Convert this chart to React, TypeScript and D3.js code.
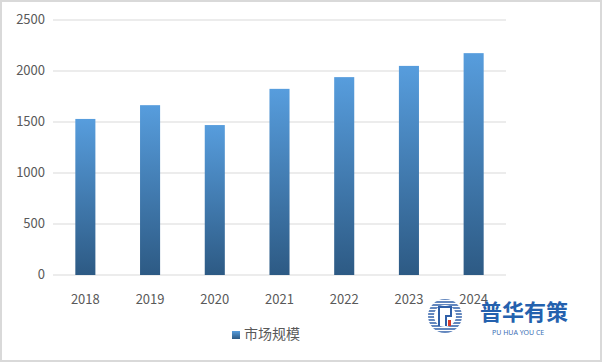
import * as d3 from "d3";

const years = ["2018", "2019", "2020", "2021", "2022", "2023", "2024"];
const marketSize = [1530, 1665, 1470, 1825, 1940, 2050, 2175];
const yTickValues = [0, 500, 1000, 1500, 2000, 2500];
const legendLabel = "市场规模";

export default function App() {
  const width = 602;
  const height = 362;
  const margin = { top: 20, right: 96, bottom: 87, left: 53 };

  const xScale = d3
    .scaleBand()
    .domain(years)
    .range([margin.left, width - margin.right])
    .paddingInner(0.69)
    .paddingOuter(0.345);
  const yScale = d3
    .scaleLinear()
    .domain([0, 2500])
    .range([height - margin.bottom, margin.top]);

  const font = "'Noto Sans CJK SC', 'Noto Sans', sans-serif";
  const stripes = d3.range(-17, 18, 3);

  return (
    <svg
      width={width}
      height={height}
      style={{ position: "absolute", left: 0, top: 0 }}
      viewBox={`0 0 ${width} ${height}`}
    >
      <defs>
        <linearGradient id="barGrad" x1="0" y1="0" x2="0" y2="1">
          <stop offset="0%" stopColor="#579DDD" />
          <stop offset="100%" stopColor="#2D5A84" />
        </linearGradient>
        <clipPath id="logoClip">
          <circle cx={445} cy={316} r={17} />
        </clipPath>
      </defs>
      <rect x={1} y={1} width={width - 2} height={height - 2} fill="#fff" stroke="#d9d9d9" strokeWidth={2} />

      {yTickValues.map((t) => (
        <g key={t}>
          <line
            x1={margin.left}
            x2={width - margin.right}
            y1={yScale(t)}
            y2={yScale(t)}
            stroke="#d9d9d9"
            strokeWidth={1}
          />
          <text
            x={margin.left - 8}
            y={yScale(t)}
            textAnchor="end"
            dominantBaseline="middle"
            fontSize={13}
            fill="#595959"
            fontFamily={font}
          >
            {t}
          </text>
        </g>
      ))}

      {years.map((y, i) => (
        <rect
          key={y}
          x={xScale(y)}
          y={yScale(marketSize[i])}
          width={xScale.bandwidth()}
          height={yScale(0) - yScale(marketSize[i])}
          fill="url(#barGrad)"
        />
      ))}

      {years.map((y) => (
        <text
          key={y}
          x={(xScale(y) ?? 0) + xScale.bandwidth() / 2}
          y={300}
          textAnchor="middle"
          dominantBaseline="middle"
          fontSize={13}
          fill="#595959"
          fontFamily={font}
        >
          {y}
        </text>
      ))}

      <rect x={232} y={331} width={8} height={8} fill="url(#barGrad)" />
      <text x={244} y={335} dominantBaseline="middle" fontSize={14} fill="#595959" fontFamily={font}>
        {legendLabel}
      </text>

      {/* watermark logo */}
      <g>
        <g clipPath="url(#logoClip)">
          {stripes.map((s) => (
            <line key={s} x1={426} x2={464} y1={316 + s} y2={316 + s} stroke="#2F5FA8" strokeWidth={1.6} />
          ))}
        </g>
        <circle cx={445} cy={316} r={11} fill="#fff" />
        <path d="M439 326 V307 H451 V316 H446 V326" fill="none" stroke="#2F5FA8" strokeWidth={2} />
        <rect x={448} y={320} width={3} height={6} fill="#d83a2a" />
        <text x={480} y={314} dominantBaseline="middle" fontSize={22} fontWeight={700} fill="#2461AE" fontFamily={font}>
          普华有策
        </text>
        <text x={492} y={333} dominantBaseline="middle" fontSize={7} fill="#3c6fb5" fontFamily="'Noto Sans', sans-serif">
          PU HUA YOU CE
        </text>
      </g>
    </svg>
  );
}
